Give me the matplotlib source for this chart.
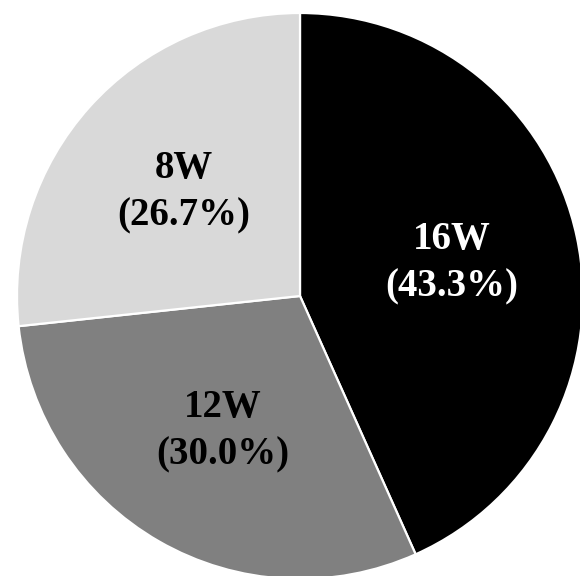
import matplotlib
matplotlib.use("Agg")
import matplotlib.pyplot as plt

labels = ["16W", "12W", "8W"]
shares = [43.3, 30.0, 26.7]
colors = ["#000000", "#808080", "#d9d9d9"]
text_colors = ["white", "black", "black"]

plt.rcParams['font.family'] = ['Liberation Serif', 'DejaVu Serif']

fig = plt.figure(figsize=(5.8, 5.76), dpi=100)
ax = fig.add_axes([0, 0, 1, 1])

texts = ["%s\n(%.1f%%)" % (l, s) for l, s in zip(labels, shares)]
wedges, label_texts = ax.pie(shares, labels=texts, colors=colors, startangle=90,
                             counterclock=False, labeldistance=0.55,
                             wedgeprops=dict(edgecolor='white', linewidth=1.6),
                             textprops=dict(fontsize=28, fontweight='bold',
                                            ha='center', va='center', linespacing=1.38))
for t, c in zip(label_texts, text_colors):
    t.set_color(c)
    t.set_horizontalalignment('center')

# circle centre at about (300, 296) px, radius about 283 px
r = 283.0
ax.set_aspect('auto')
ax.set_xlim(-300 / r, (580 - 300) / r)
ax.set_ylim(-(576 - 296) / r, 296 / r)
ax.axis('off')

fig.savefig("out.png", dpi=100)
